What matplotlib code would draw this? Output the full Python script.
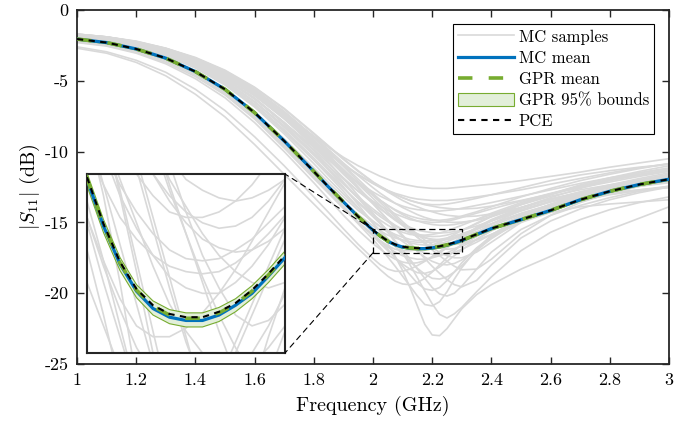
import matplotlib
matplotlib.use("Agg")
import matplotlib.pyplot as plt
from matplotlib.patches import Rectangle, ConnectionPatch

plt.rcParams["font.family"] = ["cmr10", "DejaVu Serif"]
plt.rcParams["mathtext.fontset"] = "cm"
plt.rcParams["axes.unicode_minus"] = False

# frequency grid (GHz), finer around the zoomed resonance
freq = [1.0, 1.1, 1.2, 1.3, 1.4, 1.5, 1.6, 1.7, 1.8, 1.85, 1.9, 1.95, 2.0, 2.025, 2.05, 2.075, 2.1,
        2.125, 2.15, 2.175, 2.2, 2.225, 2.25, 2.275, 2.3, 2.35, 2.4, 2.5, 2.6, 2.7, 2.8, 2.9, 3.0]

mc_mean = [-2.05, -2.30, -2.75, -3.40, -4.35, -5.60, -7.25, -9.25, -11.40, -12.50, -13.55, -14.60, -15.55,
           -15.98, -16.33, -16.58, -16.74, -16.82, -16.85, -16.85, -16.80, -16.71, -16.60, -16.44, -16.27,
           -15.85, -15.43, -14.80, -14.15, -13.40, -12.80, -12.32, -11.95]
gpr_mean = [-2.05, -2.30, -2.75, -3.40, -4.35, -5.60, -7.25, -9.25, -11.40, -12.50, -13.55, -14.59, -15.54,
            -15.97, -16.32, -16.57, -16.72, -16.80, -16.83, -16.83, -16.78, -16.70, -16.58, -16.43, -16.26,
            -15.84, -15.43, -14.80, -14.15, -13.40, -12.80, -12.32, -11.95]
gpr_upper = [-2.00, -2.25, -2.70, -3.35, -4.30, -5.55, -7.20, -9.20, -11.35, -12.45, -13.50, -14.54, -15.49,
             -15.92, -16.27, -16.52, -16.67, -16.75, -16.78, -16.78, -16.73, -16.65, -16.53, -16.38, -16.21,
             -15.79, -15.38, -14.75, -14.10, -13.35, -12.75, -12.27, -11.90]
gpr_lower = [-2.10, -2.35, -2.80, -3.45, -4.40, -5.65, -7.30, -9.30, -11.46, -12.56, -13.61, -14.65, -15.61,
             -16.04, -16.39, -16.64, -16.80, -16.88, -16.91, -16.91, -16.86, -16.77, -16.65, -16.50, -16.33,
             -15.90, -15.49, -14.85, -14.20, -13.45, -12.85, -12.37, -12.00]
pce_mean = [-2.05, -2.30, -2.75, -3.40, -4.35, -5.60, -7.25, -9.25, -11.40, -12.50, -13.55, -14.59, -15.53,
            -15.96, -16.31, -16.56, -16.71, -16.79, -16.82, -16.82, -16.77, -16.69, -16.57, -16.42, -16.25,
            -15.84, -15.43, -14.80, -14.15, -13.40, -12.80, -12.32, -11.95]

# Monte Carlo sample curves (dB), same grid
s01 = [-1.75, -1.95, -2.30, -2.80, -3.50, -4.50, -5.80, -7.30, -8.90, -9.70, -10.40, -11.00, -11.50, -11.75, -11.95, -12.15, -12.30, -12.40, -12.50, -12.55, -12.60, -12.60, -12.60, -12.55, -12.50, -12.40, -12.30, -12.05, -11.75, -11.45, -11.10, -10.80, -10.50]
s02 = [-1.80, -2.00, -2.35, -2.90, -3.65, -4.70, -6.05, -7.60, -9.30, -10.15, -10.95, -11.65, -12.25, -12.50, -12.75, -12.95, -13.10, -13.25, -13.35, -13.40, -13.45, -13.45, -13.45, -13.40, -13.35, -13.20, -13.05, -12.70, -12.30, -11.90, -11.50, -11.15, -10.85]
s03 = [-1.85, -2.05, -2.45, -3.00, -3.80, -4.90, -6.30, -7.95, -9.70, -10.60, -11.45, -12.20, -12.85, -13.15, -13.40, -13.65, -13.85, -14.00, -14.10, -14.15, -14.20, -14.20, -14.15, -14.10, -14.00, -13.80, -13.60, -13.15, -12.70, -12.25, -11.85, -11.50, -11.20]
s04 = [-1.90, -2.10, -2.50, -3.10, -3.95, -5.05, -6.50, -8.20, -10.10, -11.05, -11.95, -12.80, -13.50, -13.85, -14.15, -14.40, -14.60, -14.80, -14.90, -14.95, -15.00, -14.98, -14.90, -14.80, -14.65, -14.35, -14.05, -13.50, -12.95, -12.45, -12.00, -11.65, -11.35]
s05 = [-1.80, -2.00, -2.40, -2.95, -3.75, -4.85, -6.25, -7.95, -9.85, -10.85, -11.85, -12.80, -13.65, -14.05, -14.45, -14.80, -15.10, -15.35, -15.55, -15.65, -15.72, -15.75, -15.72, -15.65, -15.55, -15.25, -14.90, -14.20, -13.55, -12.95, -12.45, -12.00, -11.65]
s06 = [-2.00, -2.25, -2.70, -3.35, -4.30, -5.55, -7.20, -9.10, -11.15, -12.20, -13.20, -14.15, -14.95, -15.30, -15.60, -15.85, -16.05, -16.20, -16.28, -16.30, -16.28, -16.20, -16.10, -15.95, -15.80, -15.45, -15.10, -14.40, -13.75, -13.15, -12.65, -12.20, -11.85]
s07 = [-1.95, -2.15, -2.55, -3.15, -4.00, -5.15, -6.65, -8.45, -10.45, -11.50, -12.55, -13.60, -14.60, -15.10, -15.55, -15.95, -16.35, -16.70, -16.95, -17.15, -17.25, -17.30, -17.25, -17.10, -16.90, -16.40, -15.85, -14.90, -14.10, -13.45, -12.90, -12.45, -12.10]
s08 = [-1.70, -1.90, -2.25, -2.75, -3.45, -4.40, -5.70, -7.30, -9.20, -10.25, -11.35, -12.50, -13.65, -14.25, -14.85, -15.45, -16.00, -16.55, -17.05, -17.45, -17.75, -17.95, -18.00, -17.90, -17.65, -16.95, -16.15, -14.85, -13.85, -13.10, -12.50, -12.00, -11.60]
s09 = [-2.00, -2.20, -2.60, -3.20, -4.05, -5.20, -6.70, -8.55, -10.60, -11.70, -12.80, -13.95, -15.05, -15.60, -16.15, -16.70, -17.25, -17.75, -18.25, -18.65, -18.95, -19.00, -18.85, -18.50, -18.05, -17.00, -16.05, -14.75, -13.85, -13.20, -12.70, -12.30, -11.95]
s10 = [-1.75, -1.95, -2.30, -2.85, -3.60, -4.60, -5.95, -7.65, -9.65, -10.75, -11.90, -13.10, -14.35, -15.00, -15.70, -16.40, -17.15, -18.00, -18.90, -19.85, -20.75, -21.50, -21.75, -21.45, -21.00, -19.90, -18.85, -17.00, -15.70, -14.80, -14.10, -13.60, -13.20]
s11 = [-1.90, -2.10, -2.45, -3.00, -3.80, -4.85, -6.25, -8.05, -10.15, -11.30, -12.50, -13.75, -15.05, -15.70, -16.50, -17.40, -18.40, -19.60, -20.90, -22.20, -22.95, -23.00, -22.50, -21.80, -21.10, -20.10, -19.40, -18.30, -17.40, -16.40, -15.50, -14.70, -13.90]
s12 = [-2.10, -2.35, -2.80, -3.50, -4.50, -5.85, -7.60, -9.65, -11.80, -12.90, -14.00, -15.10, -16.20, -16.80, -17.45, -18.10, -18.80, -19.50, -20.20, -20.80, -20.90, -20.60, -19.90, -19.00, -18.20, -16.90, -15.90, -14.60, -13.80, -13.20, -12.75, -12.35, -12.05]
s13 = [-2.60, -2.95, -3.55, -4.40, -5.60, -7.10, -8.95, -11.00, -13.20, -14.30, -15.45, -16.55, -17.55, -18.00, -18.30, -18.45, -18.45, -18.30, -18.05, -17.75, -17.40, -17.05, -16.70, -16.35, -16.00, -15.35, -14.80, -13.95, -13.35, -12.90, -12.55, -12.25, -12.00]
s14 = [-2.70, -3.05, -3.70, -4.65, -5.95, -7.55, -9.50, -11.60, -13.70, -14.75, -15.80, -16.85, -17.85, -18.35, -18.80, -19.15, -19.35, -19.40, -19.25, -18.95, -18.50, -18.00, -17.50, -17.00, -16.55, -15.75, -15.10, -14.15, -13.55, -13.10, -12.75, -12.45, -12.20]
s15 = [-1.85, -2.05, -2.45, -3.05, -3.90, -5.00, -6.45, -8.20, -10.20, -11.25, -12.30, -13.30, -14.20, -14.60, -14.95, -15.25, -15.50, -15.70, -15.85, -15.95, -16.00, -15.98, -15.90, -15.75, -15.55, -15.10, -14.60, -13.75, -13.05, -12.45, -11.95, -11.50, -11.15]
s16 = [-2.20, -2.45, -2.90, -3.60, -4.60, -5.90, -7.60, -9.60, -11.80, -12.90, -13.95, -15.00, -15.90, -16.35, -16.75, -17.10, -17.35, -17.50, -17.60, -17.60, -17.50, -17.35, -17.15, -16.90, -16.60, -16.00, -15.45, -14.55, -13.90, -13.40, -13.00, -12.70, -12.45]
s17 = [-1.75, -1.95, -2.30, -2.80, -3.50, -4.45, -5.70, -7.25, -9.05, -10.05, -11.05, -12.10, -13.10, -13.60, -14.10, -14.60, -15.10, -15.60, -16.05, -16.50, -16.95, -17.35, -17.75, -18.10, -18.35, -18.30, -17.60, -15.80, -14.50, -13.60, -12.95, -12.45, -12.05]
s18 = [-2.05, -2.30, -2.75, -3.40, -4.35, -5.60, -7.25, -9.20, -11.35, -12.45, -13.55, -14.65, -15.75, -16.30, -16.90, -17.50, -18.10, -18.70, -19.30, -19.70, -19.80, -19.60, -19.10, -18.50, -17.85, -16.80, -16.00, -15.00, -14.30, -13.90, -13.70, -13.55, -13.40]
s19 = [-1.70, -1.90, -2.20, -2.70, -3.35, -4.25, -5.45, -6.95, -8.70, -9.60, -10.50, -11.35, -12.15, -12.50, -12.85, -13.15, -13.45, -13.70, -13.90, -14.10, -14.25, -14.40, -14.50, -14.55, -14.60, -14.55, -14.40, -13.95, -13.40, -12.85, -12.35, -11.90, -11.50]
s20 = [-1.80, -2.00, -2.35, -2.90, -3.65, -4.70, -6.05, -7.70, -9.55, -10.55, -11.60, -12.60, -13.55, -14.00, -14.45, -14.85, -15.20, -15.55, -15.80, -16.05, -16.25, -16.40, -16.50, -16.55, -16.50, -16.25, -15.85, -14.90, -14.05, -13.35, -12.80, -12.35, -11.95]
s21 = [-2.00, -2.20, -2.60, -3.20, -4.10, -5.30, -6.85, -8.75, -10.85, -11.95, -13.00, -14.00, -14.90, -15.30, -15.70, -16.00, -16.25, -16.45, -16.55, -16.60, -16.60, -16.50, -16.35, -16.15, -15.90, -15.40, -14.90, -14.10, -13.50, -12.95, -12.50, -12.10, -11.75]
s22 = [-1.75, -1.95, -2.30, -2.80, -3.50, -4.45, -5.75, -7.40, -9.30, -10.30, -11.30, -12.25, -13.10, -13.45, -13.80, -14.10, -14.35, -14.55, -14.70, -14.80, -14.85, -14.85, -14.80, -14.70, -14.55, -14.25, -13.90, -13.20, -12.60, -12.05, -11.60, -11.20, -10.85]
s23 = [-2.30, -2.55, -3.05, -3.80, -4.85, -6.20, -7.95, -10.00, -12.20, -13.35, -14.50, -15.55, -16.50, -16.90, -17.30, -17.60, -17.80, -17.90, -17.85, -17.70, -17.45, -17.15, -16.80, -16.45, -16.10, -15.45, -14.90, -14.00, -13.35, -12.85, -12.45, -12.10, -11.80]
s24 = [-1.85, -2.05, -2.40, -2.95, -3.75, -4.80, -6.20, -7.95, -9.95, -11.05, -12.15, -13.30, -14.45, -15.05, -15.65, -16.30, -16.95, -17.60, -18.30, -18.95, -19.60, -20.05, -20.20, -20.00, -19.50, -18.30, -17.10, -15.50, -14.50, -13.80, -13.25, -12.80, -12.45]
s25 = [-1.75, -1.95, -2.30, -2.85, -3.60, -4.60, -5.95, -7.60, -9.45, -10.40, -11.35, -12.25, -13.05, -13.45, -13.80, -14.15, -14.45, -14.70, -14.90, -15.05, -15.15, -15.20, -15.20, -15.15, -15.05, -14.80, -14.45, -13.70, -13.00, -12.35, -11.85, -11.40, -11.00]
s26 = [-1.70, -1.90, -2.25, -2.75, -3.45, -4.40, -5.65, -7.20, -9.00, -9.95, -10.95, -11.95, -12.95, -13.45, -13.95, -14.45, -14.95, -15.40, -15.85, -16.25, -16.55, -16.80, -16.90, -16.85, -16.70, -16.20, -15.60, -14.55, -13.70, -13.00, -12.45, -12.05, -11.75]
s27 = [-1.80, -2.00, -2.35, -2.85, -3.55, -4.50, -5.80, -7.40, -9.25, -10.25, -11.25, -12.30, -13.30, -13.80, -14.30, -14.75, -15.20, -15.65, -16.05, -16.45, -16.80, -17.10, -17.35, -17.50, -17.50, -17.10, -16.40, -15.00, -14.00, -13.25, -12.70, -12.25, -11.90]
s28 = [-1.95, -2.15, -2.55, -3.15, -4.05, -5.20, -6.75, -8.60, -10.60, -11.60, -12.60, -13.55, -14.45, -14.85, -15.20, -15.50, -15.70, -15.85, -15.90, -15.90, -15.85, -15.75, -15.60, -15.40, -15.20, -14.80, -14.35, -13.60, -13.00, -12.45, -12.00, -11.60, -11.30]
s29 = [-1.75, -1.92, -2.25, -2.72, -3.40, -4.30, -5.50, -7.00, -8.75, -9.65, -10.55, -11.40, -12.15, -12.45, -12.75, -13.00, -13.25, -13.45, -13.60, -13.75, -13.85, -13.95, -14.00, -14.05, -14.05, -14.00, -13.85, -13.45, -13.00, -12.55, -12.15, -11.75, -11.40]
s30 = [-2.15, -2.40, -2.85, -3.50, -4.50, -5.80, -7.50, -9.50, -11.65, -12.75, -13.85, -14.95, -15.95, -16.50, -17.00, -17.50, -17.95, -18.30, -18.55, -18.60, -18.45, -18.15, -17.75, -17.35, -16.95, -16.20, -15.55, -14.60, -13.95, -13.45, -13.05, -12.75, -12.50]
s31 = [-1.90, -2.10, -2.50, -3.10, -3.95, -5.05, -6.50, -8.30, -10.25, -11.25, -12.25, -13.20, -14.05, -14.45, -14.85, -15.20, -15.50, -15.75, -15.95, -16.10, -16.18, -16.22, -16.20, -16.12, -16.00, -15.65, -15.25, -14.45, -13.80, -13.20, -12.75, -12.40, -12.15]
s32 = [-1.72, -1.92, -2.27, -2.80, -3.55, -4.55, -5.90, -7.50, -9.25, -10.10, -10.90, -11.60, -12.25, -12.55, -12.80, -13.05, -13.25, -13.45, -13.60, -13.70, -13.75, -13.75, -13.70, -13.62, -13.52, -13.30, -13.05, -12.55, -12.05, -11.65, -11.35, -11.10, -10.90]
s33 = [-1.78, -1.98, -2.32, -2.85, -3.58, -4.55, -5.85, -7.50, -9.40, -10.45, -11.50, -12.60, -13.70, -14.25, -14.80, -15.35, -15.90, -16.45, -17.00, -17.55, -18.10, -18.60, -19.05, -19.40, -19.55, -19.10, -18.00, -16.10, -14.90, -14.05, -13.40, -12.90, -12.50]
s34 = [-2.10, -2.35, -2.80, -3.45, -4.40, -5.65, -7.30, -9.30, -11.45, -12.50, -13.50, -14.45, -15.25, -15.60, -15.90, -16.10, -16.25, -16.35, -16.40, -16.42, -16.40, -16.32, -16.20, -16.05, -15.88, -15.50, -15.10, -14.35, -13.75, -13.25, -12.90, -12.70, -12.55]
s35 = [-1.72, -1.90, -2.22, -2.70, -3.40, -4.35, -5.60, -7.15, -8.95, -9.85, -10.80, -11.70, -12.55, -12.95, -13.30, -13.65, -13.95, -14.20, -14.45, -14.65, -14.80, -14.90, -14.98, -15.00, -14.98, -14.85, -14.60, -13.95, -13.25, -12.60, -12.05, -11.65, -11.30]
s36 = [-2.25, -2.50, -3.00, -3.70, -4.70, -6.00, -7.70, -9.75, -11.90, -12.95, -14.00, -15.00, -15.90, -16.30, -16.65, -16.90, -17.00, -17.00, -16.92, -16.78, -16.60, -16.38, -16.12, -15.85, -15.58, -15.05, -14.55, -13.75, -13.15, -12.70, -12.35, -12.05, -11.85]
mc_samples = [s01, s02, s03, s04, s05, s06, s07, s08, s09, s10, s11, s12,
              s13, s14, s15, s16, s17, s18, s19, s20, s21, s22, s23, s24,
              s25, s26, s27, s28, s29, s30, s31, s32, s33, s34, s35, s36]

x_ticks = [1.0, 1.2, 1.4, 1.6, 1.8, 2.0, 2.2, 2.4, 2.6, 2.8, 3.0]
x_tick_labels = ["1", "1.2", "1.4", "1.6", "1.8", "2", "2.2", "2.4", "2.6", "2.8", "3"]
y_ticks = [-25, -20, -15, -10, -5, 0]
y_tick_labels = ["-25", "-20", "-15", "-10", "-5", "0"]
zoom_x = (2.0, 2.3)
zoom_y = (-17.15, -15.5)

gray = "#d9d9d9"
blue = "#0072BD"
green = "#77AC30"
band = "#e2efd9"


def draw_curves(axis):
    """Draw samples, GPR band and the three mean estimates."""
    handles = []
    for i, s in enumerate(mc_samples):
        line, = axis.plot(freq, s, color=gray, lw=1.2, zorder=1)
        if i == 0:
            handles.append(line)
    handles.append(axis.plot(freq, mc_mean, color=blue, lw=2.3, zorder=3)[0])
    handles.append(axis.plot(freq, gpr_mean, color=green, lw=2.6, dashes=(4, 4.5), zorder=4)[0])
    handles.append(axis.fill_between(freq, gpr_lower, gpr_upper, facecolor=band, edgecolor=green,
                                     lw=0.8, zorder=2))
    handles.append(axis.plot(freq, pce_mean, color="k", lw=1.5, dashes=(3, 2.6), zorder=5)[0])
    return handles


fig = plt.figure(figsize=(6.94, 4.24), dpi=100)
ax = fig.add_axes([77 / 694, 60 / 424, 592 / 694, 354 / 424])
handles = draw_curves(ax)

ax.set_xlim(1, 3)
ax.set_ylim(-25, 0)
ax.set_xticks(x_ticks)
ax.set_xticklabels(x_tick_labels)
ax.set_yticks(y_ticks)
ax.set_yticklabels(y_tick_labels)
ax.tick_params(direction="in", length=5, width=1.0, top=True, right=True, labelsize=13,
               pad=6, color="#262626")
for sp in ax.spines.values():
    sp.set_linewidth(1.3)
    sp.set_color("#262626")
ax.set_xlabel("Frequency (GHz)", fontsize=14.5, labelpad=6)
ax.set_ylabel(r"$|S_{11}|$ (dB)", fontsize=14.5, labelpad=2)

labels = ["MC samples", "MC mean", "GPR mean", "GPR 95% bounds", "PCE"]
leg = ax.legend(handles, labels, loc="upper right", bbox_to_anchor=(1 - 15 / 592, 1 - 14 / 354),
                borderaxespad=0, fancybox=False, edgecolor="k", framealpha=1, fontsize=12,
                handlelength=3.35, handletextpad=0.3, labelspacing=0.33, borderpad=0.3,
                handleheight=0.9)
leg.get_frame().set_linewidth(0.8)

# zoom box and connector lines
ax.add_patch(Rectangle((zoom_x[0], zoom_y[0]), zoom_x[1] - zoom_x[0], zoom_y[1] - zoom_y[0],
                       fill=False, ec="k", lw=0.9, ls=(0, (5, 3)), zorder=6))

axins = fig.add_axes([87 / 694, 71 / 424, 198 / 694, 179 / 424])
draw_curves(axins)
axins.set_xlim(*zoom_x)
axins.set_ylim(*zoom_y)
axins.set_xticks([])
axins.set_yticks([])
for sp in axins.spines.values():
    sp.set_linewidth(1.5)
    sp.set_color("#262626")

for corner_main, corner_ins in [((zoom_x[0], zoom_y[1]), (1, 1)), ((zoom_x[0], zoom_y[0]), (1, 0))]:
    con = ConnectionPatch(xyA=corner_main, coordsA=ax.transData, xyB=corner_ins,
                          coordsB=axins.transAxes, color="k", lw=0.8, ls=(0, (5, 4)))
    fig.add_artist(con)

fig.savefig("out.png", dpi=100)
